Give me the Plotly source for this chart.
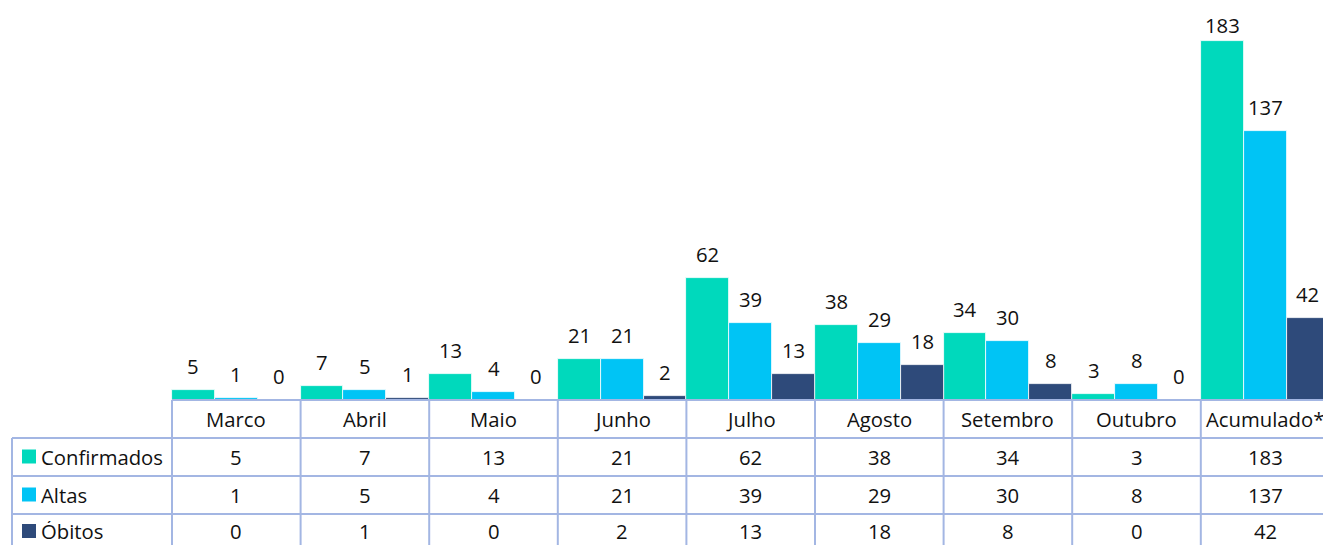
import plotly.graph_objects as go

categories = ["Marco", "Abril", "Maio", "Junho", "Julho", "Agosto", "Setembro", "Outubro", "Acumulado*"]
confirmados = [5, 7, 13, 21, 62, 38, 34, 3, 183]
altas = [1, 5, 4, 21, 39, 29, 30, 8, 137]
obitos = [0, 1, 0, 2, 13, 18, 8, 0, 42]
series_names = ["Confirmados", "Altas", "Óbitos"]
colors = ["#00D9BC", "#00C4F5", "#2E4A7A"]
series = [confirmados, altas, obitos]

W, H = 1323, 545
x0_px, cat_px = 172, 128.6      # left of first category, width per category
base_px, unit_px = 400, 1.962   # baseline pixel, pixels per unit

def px_to_x(px):
    return (px - x0_px) / cat_px - 0.5

def py_to_paper(py):
    return 1 - py / H

FONT = "Open Sans, Lato, sans-serif"
FS = 20.3
grid = "#A3B6E3"

fig = go.Figure()
idx = list(range(len(categories)))
for name, vals, col in zip(series_names, series, colors):
    fig.add_trace(go.Bar(x=idx, y=vals, name=name, marker=dict(color=col, line=dict(color="white", width=0.8)),
                         showlegend=False))

annotations = []
shapes = []
# data labels
for s, (vals, col) in enumerate(zip(series, colors)):
    off = (s - 1) / 3
    for i, v in enumerate(vals):
        top_px = base_px - v * unit_px
        lab_px = max(top_px - 24, 25)
        annotations.append(dict(x=i + off, y=v, xref="x", yref="y", text=str(v), showarrow=False,
                                yanchor="middle", yshift=top_px - lab_px,
                                font=dict(family=FONT, size=FS, color="#111")))

row_top = [400, 438, 476, 514, 552]
left_px = 12
# horizontal lines
shapes.append(dict(type="line", xref="x", yref="paper", x0=-0.5, x1=px_to_x(W + 10),
                   y0=py_to_paper(400), y1=py_to_paper(400), line=dict(color=grid, width=2)))
for r in row_top[1:4]:
    shapes.append(dict(type="line", xref="x", yref="paper", x0=px_to_x(left_px), x1=px_to_x(W + 10),
                       y0=py_to_paper(r), y1=py_to_paper(r), line=dict(color=grid, width=2)))
# vertical lines
for i in range(len(categories) + 1):
    shapes.append(dict(type="line", xref="x", yref="paper", x0=i - 0.5, x1=i - 0.5,
                       y0=py_to_paper(400), y1=py_to_paper(560), line=dict(color=grid, width=2)))
shapes.append(dict(type="line", xref="x", yref="paper", x0=px_to_x(left_px), x1=px_to_x(left_px),
                   y0=py_to_paper(438), y1=py_to_paper(560), line=dict(color=grid, width=2)))

# header
for i, c in enumerate(categories):
    annotations.append(dict(x=i, y=py_to_paper(419), xref="x", yref="paper", text=c, showarrow=False,
                            yanchor="middle", font=dict(family=FONT, size=FS, color="#111")))
# rows
for s, (name, vals, col) in enumerate(zip(series_names, series, colors)):
    cy = (row_top[s + 1] + row_top[s + 2]) / 2 - 0.5
    last = s == len(series) - 1
    if last:
        cy = 531
    extra = dict(height=20) if last else {}
    shapes.append(dict(type="rect", xref="x", yref="paper", x0=px_to_x(22), x1=px_to_x(36),
                       y0=py_to_paper(cy - 7), y1=py_to_paper(cy + 7), fillcolor=col, line=dict(width=0)))
    annotations.append(dict(x=px_to_x(39), y=py_to_paper(cy), xref="x", yref="paper", text=name, showarrow=False,
                            xanchor="left", yanchor="middle", font=dict(family=FONT, size=FS, color="#111"), **extra))
    for i, v in enumerate(vals):
        annotations.append(dict(x=i, y=py_to_paper(cy), xref="x", yref="paper", text=str(v), showarrow=False,
                                yanchor="middle", font=dict(family=FONT, size=FS, color="#111"), **extra))

fig.update_layout(
    width=W, height=H, margin=dict(l=0, r=0, t=0, b=0),
    plot_bgcolor="white", paper_bgcolor="white",
    barmode="group", bargap=0, bargroupgap=0,
    xaxis=dict(range=[px_to_x(0), px_to_x(W)], visible=False, fixedrange=True),
    yaxis=dict(range=[(base_px - H) / unit_px, base_px / unit_px], visible=False, fixedrange=True),
    annotations=annotations, shapes=shapes,
)
fig.write_html("out.html", config={"displayModeBar": False},
               post_script="document.body.style.margin='0';document.body.style.overflow='hidden';")
